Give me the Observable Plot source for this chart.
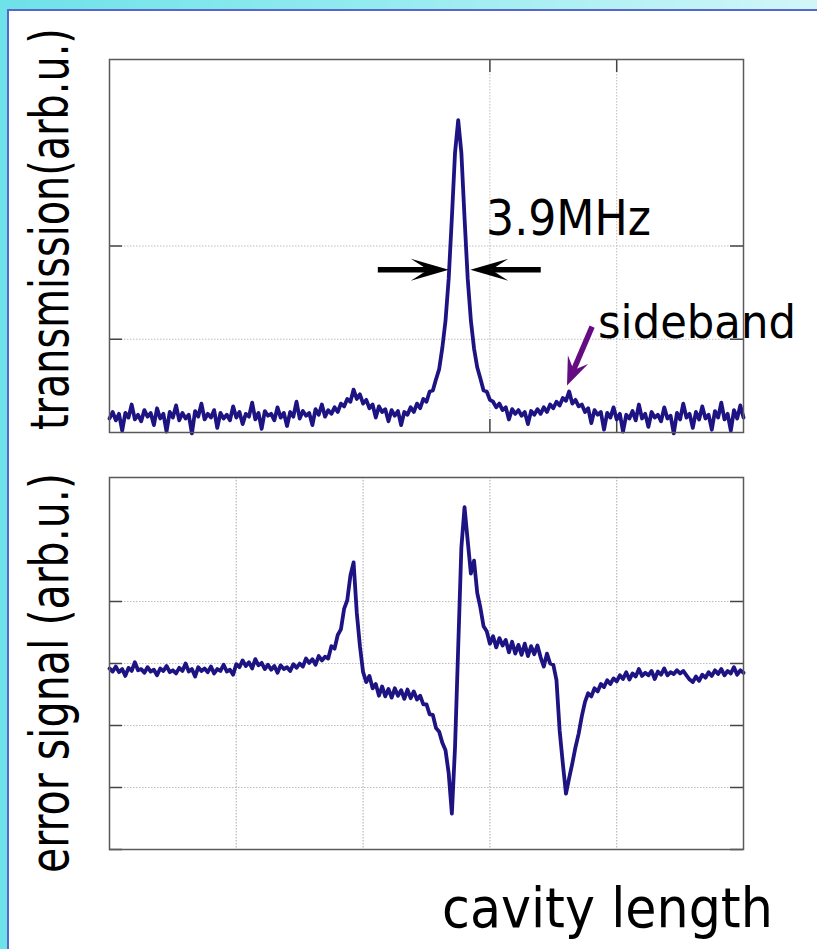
<!DOCTYPE html>
<html>
<head>
<meta charset="utf-8">
<script src="https://cdn.jsdelivr.net/npm/d3@7"></script>
<script src="https://cdn.jsdelivr.net/npm/@observablehq/plot@0.6"></script>
<style>
  html, body { margin: 0; padding: 0; }
  body { width: 817px; height: 949px; overflow: hidden;
         background: linear-gradient(90deg, #6de2e8 0%, #92ebef 45%, #d2f6f8 100%); }
  #page { position: absolute; left: 7px; top: 9px; width: 812px; height: 942px;
          background: #ffffff; border-left: 2px solid #5566cc; border-top: 2px solid #5566cc; }
  #wrap { position: absolute; left: 0; top: 0; width: 817px; height: 949px; }
  #wrap > svg { position: absolute; left: 0; }
  #overlay { position: absolute; left: 0; top: 0; pointer-events: none; }
</style>
</head>
<body>
<div id="page"></div>
<div id="wrap"></div>
<script>
// ---- data ----
// sample positions along cavity length (arb. scan units 0..5, 201 samples)
const sampleCount = 201;
const scanStart = 0, scanEnd = 5;

// transmission trace (arb.u.)
const transmission = [
  0.15,0.22,0.13,0.20,0.02,0.21,0.16,0.30,0.14,0.19,
  0.12,0.24,0.17,0.21,0.08,0.26,0.15,0.20,0.01,0.22,
  0.16,0.29,0.13,0.21,0.15,0.19,-0.01,0.23,0.17,0.31,
  0.14,0.20,0.16,0.24,0.05,0.21,0.15,0.19,0.13,0.28,
  0.16,0.22,0.09,0.20,0.17,0.32,0.14,0.21,0.04,0.23,
  0.18,0.20,0.13,0.27,0.16,0.21,0.07,0.22,0.17,0.33,
  0.15,0.23,0.18,0.21,0.08,0.25,0.19,0.30,0.17,0.24,
  0.20,0.27,0.22,0.31,0.28,0.36,0.33,0.46,0.36,0.41,
  0.31,0.35,0.26,0.30,0.16,0.28,0.22,0.25,0.12,0.24,
  0.18,0.23,0.08,0.22,0.19,0.27,0.22,0.31,0.26,0.36,
  0.33,0.44,0.45,0.57,0.68,0.91,1.20,1.65,2.30,3.00,
  3.35,3.00,2.30,1.65,1.20,0.90,0.70,0.58,0.45,0.44,
  0.35,0.33,0.27,0.31,0.24,0.27,0.14,0.25,0.20,0.24,
  0.18,0.22,0.09,0.23,0.19,0.25,0.20,0.27,0.22,0.30,
  0.26,0.33,0.29,0.37,0.34,0.44,0.31,0.35,0.28,0.30,
  0.22,0.26,0.10,0.24,0.19,0.22,0.03,0.21,0.16,0.27,
  0.14,0.20,0.01,0.19,0.15,0.23,0.13,0.30,0.15,0.20,
  0.06,0.22,0.16,0.19,0.12,0.27,0.15,0.18,-0.01,0.21,
  0.14,0.31,0.16,0.20,0.05,0.22,0.14,0.28,0.15,0.19,
  0.03,0.23,0.16,0.32,0.14,0.20,0.02,0.24,0.15,0.29,
  0.16
];

// error signal trace (arb.u.)
const errorSignal = [
  -0.08,-0.13,-0.05,-0.14,-0.09,-0.20,-0.07,-0.12,0.02,-0.11,
  -0.09,-0.15,-0.06,-0.13,-0.10,-0.19,-0.08,-0.12,-0.04,-0.14,
  -0.11,-0.16,-0.07,-0.12,0.00,-0.13,-0.09,-0.21,-0.06,-0.12,
  -0.08,-0.14,-0.05,-0.16,-0.09,-0.12,-0.02,-0.13,-0.10,-0.18,
  -0.01,-0.06,0.05,-0.04,0.02,-0.08,0.07,-0.03,0.01,-0.09,
  -0.02,-0.10,-0.04,-0.15,-0.03,-0.09,-0.06,-0.12,-0.01,-0.07,
  0.00,-0.05,0.08,0.01,0.07,-0.02,0.12,0.05,0.11,0.08,
  0.28,0.24,0.46,0.55,0.88,1.02,1.42,1.63,0.82,0.28,
  -0.14,-0.30,-0.20,-0.40,-0.33,-0.52,-0.37,-0.53,-0.41,-0.55,
  -0.40,-0.52,-0.43,-0.57,-0.42,-0.56,-0.45,-0.58,-0.52,-0.66,
  -0.66,-0.82,-0.83,-1.04,-1.10,-1.28,-1.40,-1.77,-2.42,-1.35,
  0.26,1.87,2.52,1.98,1.45,1.66,1.14,0.90,0.60,0.52,
  0.32,0.44,0.26,0.41,0.29,0.38,0.18,0.35,0.16,0.30,
  0.14,0.32,0.12,0.28,0.15,0.29,0.10,-0.05,0.16,0.00,
  -0.02,-0.27,-1.08,-1.61,-2.10,-1.85,-1.61,-1.35,-1.13,-0.85,
  -0.62,-0.48,-0.53,-0.40,-0.45,-0.33,-0.38,-0.27,-0.33,-0.24,
  -0.29,-0.19,-0.25,-0.14,-0.26,-0.16,-0.21,-0.09,-0.20,-0.15,
  -0.19,-0.12,-0.25,-0.13,-0.18,-0.08,-0.19,-0.14,-0.17,-0.11,
  -0.16,-0.12,-0.19,-0.26,-0.30,-0.21,-0.28,-0.18,-0.23,-0.14,
  -0.20,-0.11,-0.17,-0.09,-0.19,-0.12,-0.16,-0.06,-0.18,-0.11,
  -0.15
];

// axis / grid tick values
const topYDomain = [0, 4];
const topYTicks = [1, 2];
const topXTicks = [3, 4];
const bottomYDomain = [-3, 3];
const bottomYTicks = [1, 0, -1, -2, -3];
const bottomYGrid = [1, 0, -1, -2];
const bottomXGrid = [1, 2, 3, 4];

// annotations (in data units of the transmission panel)
const fwhmArrows = [
  {x1: 2.12, y1: 1.74, x2: 2.68, y2: 1.74},
  {x1: 3.405, y1: 1.74, x2: 2.85, y2: 1.74}
];
const sidebandArrow = [{x1: 3.81, y1: 1.13, x2: 3.612, y2: 0.50}];

// labels
const yLabelTop = "transmission(arb.u.)";
const yLabelBottom = "error signal (arb.u.)";
const xLabel = "cavity length";
const widthLabel = "3.9MHz";
const sidebandLabel = "sideband";

// ---- build tables ----
const step = (scanEnd - scanStart) / (sampleCount - 1);
const topData = transmission.map((v, i) => ({x: scanStart + i * step, y: v}));
const bottomData = errorSignal.map((v, i) => ({x: scanStart + i * step, y: v}));

const traceColor = "#1d1383";
const gridStyle = {stroke: "#bdbdbd", strokeWidth: 1, strokeDasharray: "1.5,1.5"};
const W = 817;
const innerW = 743 - 109;
const tickLen = 13;

function arrowMark(arrows, color, shaft, headLen, headWid, notchFrac) {
  return (index, scales) => {
    const g = d3.create("svg:g");
    for (const a of arrows) {
      const x1 = scales.x(a.x1), y1 = scales.y(a.y1), x2 = scales.x(a.x2), y2 = scales.y(a.y2);
      const dx = x2 - x1, dy = y2 - y1, L = Math.hypot(dx, dy);
      const ux = dx / L, uy = dy / L, px = -uy, py = ux;
      const bx = x2 - ux * headLen, by = y2 - uy * headLen;
      const nx = x2 - ux * headLen * notchFrac, ny = y2 - uy * headLen * notchFrac;
      g.append("line").attr("x1", x1).attr("y1", y1).attr("x2", nx).attr("y2", ny)
        .attr("stroke", color).attr("stroke-width", shaft);
      const hw = headWid / 2;
      g.append("path")
        .attr("d", `M${x2},${y2}L${bx + px * hw},${by + py * hw}L${nx},${ny}L${bx - px * hw},${by - py * hw}Z`)
        .attr("fill", color);
    }
    return g.node();
  };
}

const wrap = document.getElementById("wrap");
const lineStyle = {stroke: traceColor, strokeWidth: 3.8, strokeLinejoin: "round"};

// top panel
const topPlot = Plot.plot({
  width: W, height: 440,
  marginLeft: 109, marginRight: W - 743, marginTop: 59, marginBottom: 8,
  x: {domain: [scanStart, scanEnd], axis: null},
  y: {domain: topYDomain, axis: null},
  style: {background: "transparent", overflow: "visible"},
  marks: [
    Plot.ruleY(topYTicks, {y: d => d, ...gridStyle}),
    Plot.ruleX(topXTicks, {x: d => d, ...gridStyle}),
    Plot.tickY(topYTicks, {y: d => d, insetRight: innerW - tickLen, stroke: "#444", strokeWidth: 1.5}),
    Plot.tickY(topYTicks, {y: d => d, insetLeft: innerW - tickLen, stroke: "#444", strokeWidth: 1.5}),
    Plot.tickX(topXTicks, {x: d => d, insetBottom: 373 - tickLen, stroke: "#444", strokeWidth: 1.5}),
    Plot.tickX(topXTicks, {x: d => d, insetTop: 373 - tickLen, stroke: "#444", strokeWidth: 1.5}),
    Plot.line(topData, {x: "x", y: "y", ...lineStyle}),
    Plot.frame({stroke: "#5a5a5a", strokeWidth: 1.5}),
    arrowMark(fwhmArrows, "#000000", 5.5, 38, 22, 0.55),
    arrowMark(sidebandArrow, "#650c82", 5.5, 28, 22, 0.6)
  ]
});
topPlot.style.top = "0px";
wrap.appendChild(topPlot);

// bottom panel
const bottomPlot = Plot.plot({
  width: W, height: 420,
  marginLeft: 109, marginRight: W - 743, marginTop: 37, marginBottom: 11,
  x: {domain: [scanStart, scanEnd], axis: null},
  y: {domain: bottomYDomain, axis: null},
  style: {background: "transparent", overflow: "visible"},
  marks: [
    Plot.ruleY(bottomYGrid, {y: d => d, ...gridStyle}),
    Plot.ruleX(bottomXGrid, {x: d => d, ...gridStyle, strokeWidth: 1.3}),
    Plot.tickY(bottomYTicks, {y: d => d, insetRight: innerW - tickLen, stroke: "#444", strokeWidth: 1.5}),
    Plot.tickY(bottomYTicks, {y: d => d, insetLeft: innerW - tickLen, stroke: "#444", strokeWidth: 1.5}),
    Plot.line(bottomData, {x: "x", y: "y", ...lineStyle}),
    Plot.frame({stroke: "#5a5a5a", strokeWidth: 1.5})
  ]
});
bottomPlot.style.top = "440px";
wrap.appendChild(bottomPlot);

// text labels overlay (glyphs condensed to the reference's measured extents)
const ov = d3.select(wrap).append("svg").attr("id", "overlay")
  .attr("width", W).attr("height", 949)
  .style("font-family", "'DejaVu Sans', sans-serif").style("fill", "#000");
function label(txt, x, y, size, len, rot) {
  const t = ov.append("text").text(txt).attr("font-size", size);
  const natural = t.node().getComputedTextLength() || len;
  const s = len / natural;
  t.attr("transform", `translate(${x},${y})${rot ? " rotate(-90)" : ""} scale(${s},1)`);
}
label(yLabelTop, 68, 430, 53, 402, true);
label(yLabelBottom, 68, 873, 53, 400, true);
label(xLabel, 442, 927, 55, 331, false);
label(widthLabel, 486, 235, 49, 165, false);
label(sidebandLabel, 598, 338, 46, 198, false);
</script>
</body>
</html>
